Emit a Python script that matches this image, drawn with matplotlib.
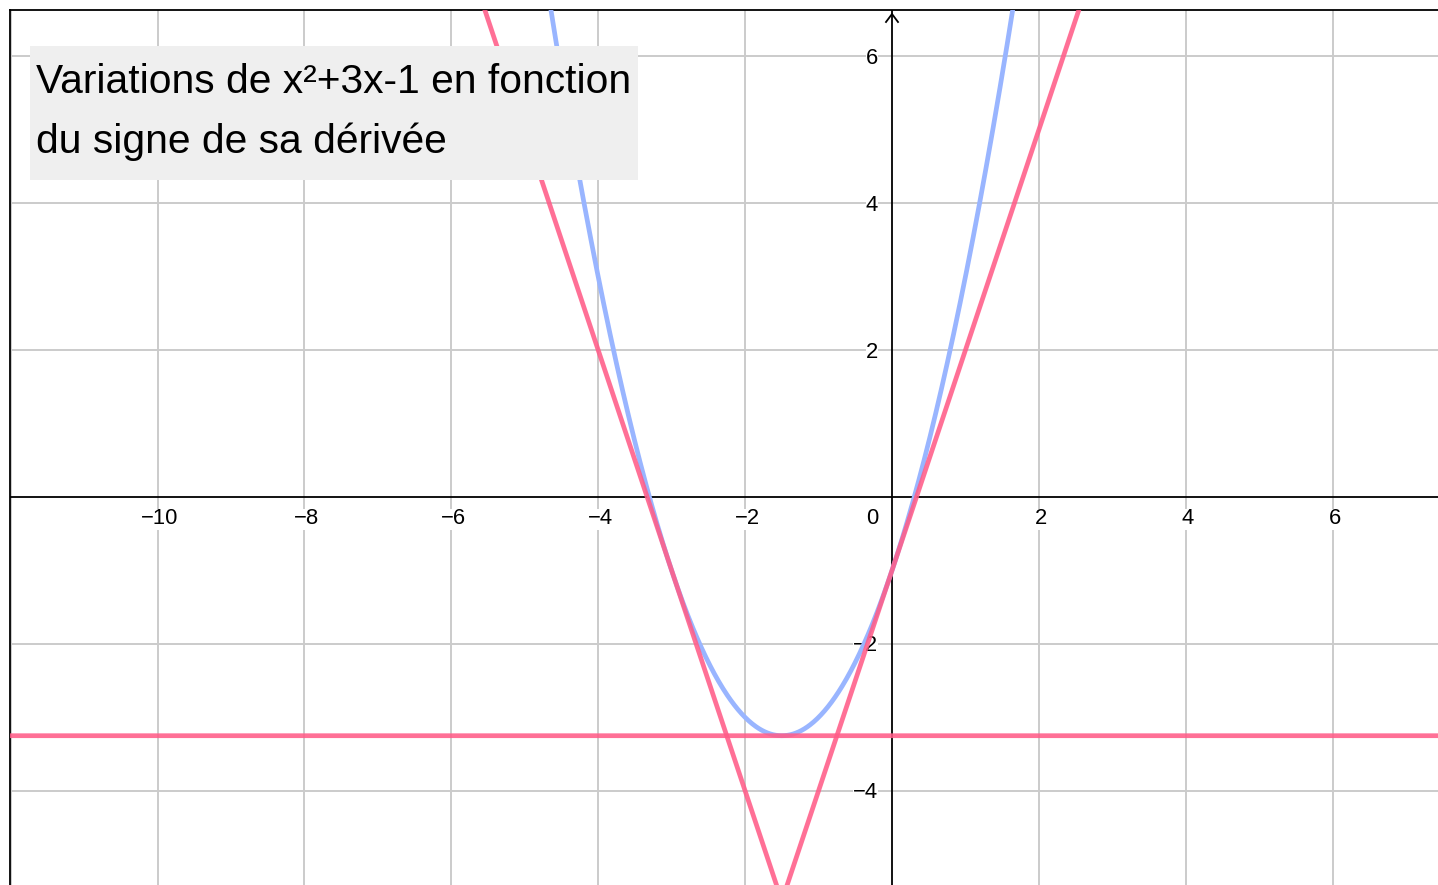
import numpy as np
import matplotlib
matplotlib.use("Agg")
import matplotlib.pyplot as plt
from matplotlib.patches import Rectangle

# ---- data ----
poly_coeffs = [1, 3, -1]            # f(x) = x^2 + 3x - 1
tangent_points = [-3.0, -1.5, 0.0]  # points where tangents are drawn
x_tick_values = [-10, -8, -6, -4, -2, 2, 4, 6]
y_tick_values = [-4, -2, 2, 4, 6]
grid_values = list(range(-12, 9, 2))
title_lines = ["Variations de x\u00b2+3x-1 en fonction", "du signe de sa d\u00e9riv\u00e9e"]

W, H = 1438, 885
fig = plt.figure(figsize=(W / 100, H / 100), dpi=100)
plt.rcParams['font.family'] = ['Liberation Sans', 'DejaVu Sans']

scale = 73.45
x0px, y0px = 892, 497
xlim = ((10 - x0px) / scale, (W - x0px) / scale)
ylim = (-(H - y0px) / scale, (y0px - 10) / scale)

ax = fig.add_axes([10 / W, 0, (W - 10) / W, (H - 10) / H])
ax.set_xlim(*xlim)
ax.set_ylim(*ylim)
ax.set_xticks([])
ax.set_yticks([])
for s in ['right', 'bottom']:
    ax.spines[s].set_visible(False)
for s in ['left', 'top']:
    ax.spines[s].set_linewidth(1.3)
    ax.spines[s].set_color('black')

# grid
for g in grid_values:
    if g != 0:
        ax.axvline(g, color='#cbcbcb', lw=1.4, zorder=0)
        ax.axhline(g, color='#cbcbcb', lw=1.4, zorder=0)

# axes lines
ax.axhline(0, color='black', lw=1.3, zorder=1)
ax.axvline(0, color='black', lw=1.3, zorder=1)
# arrow heads
px = 1 / scale
ytip = ylim[1] - 4 * px
ax.plot([-6 * px, 0, 6 * px], [ytip - 8 * px, ytip, ytip - 8 * px], color='black', lw=1.3,
        zorder=1, clip_on=False, solid_joinstyle='miter')
xtip = xlim[1] + 9 * px
ax.plot([xtip - 8 * px, xtip, xtip - 8 * px], [6 * px, 0, -6 * px], color='black', lw=1.3,
        zorder=1)

# tick labels
fs_tick = 15.8
bb = dict(boxstyle='square,pad=0.0', fc='white', ec='none')
for v in x_tick_values:
    ax.annotate('\u2212' + str(-v) if v < 0 else str(v), (v, 0), xytext=(2, -22),
                textcoords='offset pixels', ha='center', va='center', fontsize=fs_tick, zorder=2,
                bbox=bb)
for v in y_tick_values:
    ax.annotate('\u2212' + str(-v) if v < 0 else str(v), (0, v), xytext=(-14, -2),
                textcoords='offset pixels', ha='right', va='center', fontsize=fs_tick, zorder=2,
                bbox=bb)
ax.annotate('0', (0, 0), xytext=(-14, -22), textcoords='offset pixels', ha='right', va='center',
            fontsize=fs_tick, zorder=2)

# curves
xs = np.linspace(xlim[0], xlim[1], 2000)
p = np.poly1d(poly_coeffs)
dp = p.deriv()
ax.plot(xs, p(xs), color='#99b5ff', lw=3.4, zorder=3, solid_capstyle='butt')
for a in tangent_points:
    ax.plot(xs, p(a) + dp(a) * (xs - a), color='#ff5c88', lw=3.4, alpha=0.88, zorder=4)

# title box
fig.add_artist(Rectangle((30 / W, 1 - 180 / H), (638 - 30) / W, (180 - 46) / H,
                         transform=fig.transFigure, fc='#efefef', ec='none', zorder=5))
fig.text(36 / W, 1 - 93 / H, title_lines[0], fontsize=29.3, va='baseline', ha='left', zorder=6)
fig.text(36 / W, 1 - 153 / H, title_lines[1], fontsize=29.3, va='baseline', ha='left', zorder=6)

fig.savefig('out.png', dpi=100)
